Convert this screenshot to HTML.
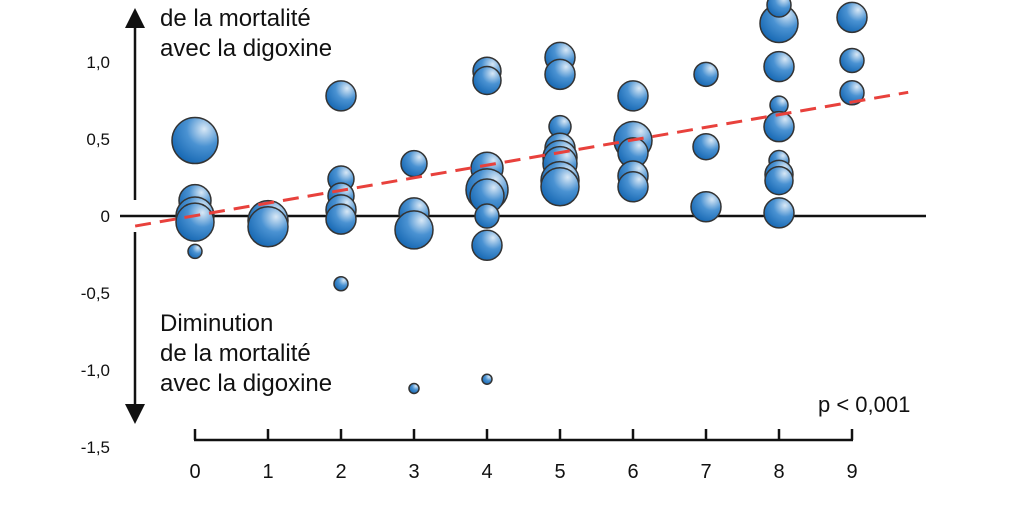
<!DOCTYPE html>
<html><head><meta charset="utf-8"><style>
body{margin:0;background:#fff;}
svg{display:block;font-family:"Liberation Sans",sans-serif;}
</style></head><body>
<svg id="chart" width="1022" height="516" viewBox="0 0 1022 516">
<defs>
<radialGradient id="bg" cx="0.7" cy="0.25" r="0.85">
<stop offset="0" stop-color="#d8e8f6"/><stop offset="0.45" stop-color="#4a92d2"/><stop offset="1" stop-color="#1264b0"/>
</radialGradient>
</defs>
<g id="axes"></g>
<g id="bubbles"></g>
<line id="trend" stroke="#e8413c" stroke-width="3" stroke-dasharray="16,9"/>
<g font-size="24" fill="#111">
<text x="160" y="-5">Augmentation</text>
<text x="160" y="26">de la mortalité</text>
<text x="160" y="56">avec la digoxine</text>
<text x="160" y="331">Diminution</text>
<text x="160" y="361">de la mortalité</text>
<text x="160" y="391">avec la digoxine</text>
<text x="818" y="412" font-size="22">p &lt; 0,001</text>
</g>
</svg>
<script>
const xTicks=[0,1,2,3,4,5,6,7,8,9];
const yTicks=[1.0,0.5,0,-0.5,-1.0,-1.5];
const yTickLabels=["1,0","0,5","0","-0,5","-1,0","-1,5"];
const bubbleX=[0,0,0,0,0, 1,1, 2,2,2,2,2,2, 3,3,3,3, 4,4,4,4,4,4,4,4,4, 5,5,5,5,5,5,5,5, 6,6,6,6,6, 7,7,7, 8,8,8,8,8,8,8,8,8,8, 9,9,9,9];
const bubbleY=[0.49,0.10,0.0,-0.04,-0.23, -0.03,-0.07, 0.78,0.24,0.13,0.04,-0.02,-0.44, 0.34,0.02,-0.09,-1.12, 0.94,0.88,0.31,0.21,0.17,0.13,0.0,-0.19,-1.06, 1.03,0.92,0.58,0.44,0.38,0.34,0.23,0.19, 0.78,0.49,0.41,0.26,0.19, 0.92,0.45,0.06, 1.43,1.25,0.97,0.72,0.58,0.36,0.27,0.23,0.02, 1.37,1.29,1.01,0.80];
const bubbleSize=[23,16,19,19,7, 20,20, 15,13,13,15,15,7, 13,15,19,5, 14,14,16,7,21,17,12,15,5, 15,15,11,15,17,17,19,19, 15,19,15,15,15, 12,13,15, 10,19,15,9,15,10,14,14,15, 12,15,12,12];
const trendIntercept=0.002, trendSlope=0.082;
const NS="http://www.w3.org/2000/svg";
const X=v=>195+v*73.0;
const Y=v=>216-v*154;
function mk(tag,attrs,parent){const e=document.createElementNS(NS,tag);for(const k in attrs)e.setAttribute(k,attrs[k]);parent.appendChild(e);return e;}
const ax=document.getElementById('axes');
let z=mk('line',{x1:120,x2:926,y1:Y(0),y2:Y(0),stroke:'#111','stroke-width':2.5},ax);


let a1=mk('line',{x1:135,x2:135,y1:200,y2:26,stroke:'#111','stroke-width':2.5},ax);


let h1=mk('polygon',{points:'125,28 145,28 135,8',fill:'#111'},ax);


let a2=mk('line',{x1:135,x2:135,y1:232,y2:406,stroke:'#111','stroke-width':2.5},ax);


let h2=mk('polygon',{points:'125,404 145,404 135,424',fill:'#111'},ax);


let xa=mk('line',{x1:X(0)-1,x2:X(9)+1,y1:440,y2:440,stroke:'#111','stroke-width':2.5},ax);


xTicks.forEach(t=>{
  const tk=mk('line',{x1:X(t),x2:X(t),y1:440,y2:429,stroke:'#111','stroke-width':2.5},ax);
  
  
  const tl=mk('text',{x:X(t),y:478,'text-anchor':'middle','font-size':20,fill:'#111'},ax);
  tl.textContent=t;
  
  
});
yTicks.forEach((t,i)=>{
  const tl=mk('text',{x:110,y:Y(t)+6,'text-anchor':'end','font-size':17,fill:'#111'},ax);
  tl.textContent=yTickLabels[i];
  
  
});
const bg=document.getElementById('bubbles');
bubbleX.forEach((x,i)=>{
  const c=mk('circle',{cx:X(x),cy:Y(bubbleY[i]),r:bubbleSize[i],fill:'url(#bg)',stroke:'#333','stroke-width':1.5},bg);
  
  
});
const tr=document.getElementById('trend');
const x0=-0.82,x1=9.77;
tr.setAttribute('x1',X(x0));tr.setAttribute('y1',Y(trendIntercept+trendSlope*x0));
tr.setAttribute('x2',X(x1));tr.setAttribute('y2',Y(trendIntercept+trendSlope*x1));
</script>
</body></html>
